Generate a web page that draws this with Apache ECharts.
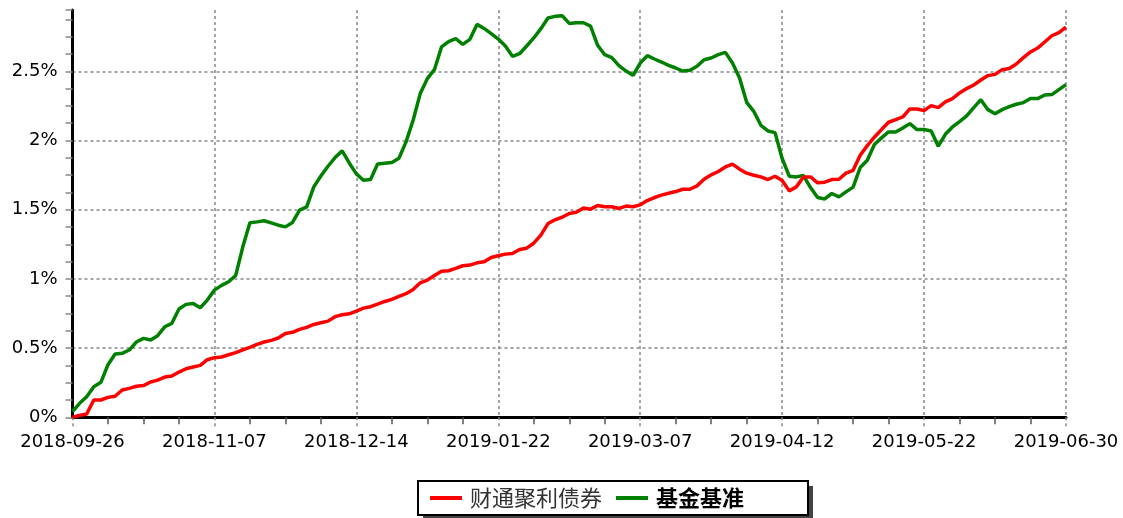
<!DOCTYPE html>
<html>
<head>
<meta charset="utf-8">
<title>财通聚利债券 vs 基金基准</title>
<script src="https://cdn.jsdelivr.net/npm/echarts@6/dist/echarts.min.js"></script>
<style>
    html, body { margin: 0; padding: 0; background: #fff; }
    #chart { width: 1123px; height: 518px; }
</style>
</head>
<body>
<div id="chart"></div>
<script>
// tick labels shown under the x axis (one every 20 points)
const tickLabels = ['2018-09-26', '2018-11-07', '2018-12-14', '2019-01-22',
    '2019-03-07', '2019-04-12', '2019-05-22', '2019-06-30'];
const pointsPerTick = 20;

const seriesNames = ['财通聚利债券', '基金基准'];

// cumulative return, %
const fundValues = [
    0, 0.014, 0.024, 0.125, 0.125, 0.144, 0.152, 0.197, 0.209, 0.224,
    0.229, 0.255, 0.269, 0.291, 0.298, 0.327, 0.351, 0.363, 0.375, 0.416,
    0.431, 0.436, 0.452, 0.467, 0.488, 0.505, 0.527, 0.544, 0.556, 0.573,
    0.606, 0.614, 0.635, 0.650, 0.671, 0.683, 0.695, 0.727, 0.741, 0.748,
    0.768, 0.789, 0.799, 0.818, 0.837, 0.852, 0.873, 0.893, 0.924, 0.972,
    0.991, 1.025, 1.056, 1.059, 1.076, 1.095, 1.100, 1.116, 1.124, 1.155,
    1.167, 1.179, 1.184, 1.213, 1.222, 1.258, 1.316, 1.400, 1.427, 1.446,
    1.473, 1.482, 1.513, 1.504, 1.530, 1.521, 1.521, 1.509, 1.526, 1.521,
    1.535, 1.566, 1.588, 1.605, 1.619, 1.631, 1.648, 1.648, 1.672, 1.720,
    1.752, 1.776, 1.809, 1.829, 1.793, 1.764, 1.749, 1.737, 1.718, 1.742,
    1.711, 1.636, 1.665, 1.737, 1.737, 1.694, 1.699, 1.718, 1.720, 1.764,
    1.785, 1.894, 1.963, 2.024, 2.079, 2.132, 2.151, 2.170, 2.228, 2.228,
    2.216, 2.252, 2.238, 2.279, 2.303, 2.344, 2.375, 2.401, 2.437, 2.469,
    2.478, 2.512, 2.520, 2.553, 2.599, 2.640, 2.668, 2.712, 2.757, 2.779,
    2.820
];

const benchmarkValues = [
    0.041, 0.101, 0.149, 0.221, 0.253, 0.380, 0.457, 0.462, 0.486, 0.544,
    0.570, 0.558, 0.590, 0.654, 0.679, 0.782, 0.816, 0.823, 0.792, 0.847,
    0.919, 0.953, 0.979, 1.025, 1.232, 1.405, 1.412, 1.420, 1.405, 1.388,
    1.376, 1.408, 1.497, 1.521, 1.665, 1.744, 1.814, 1.877, 1.925, 1.838,
    1.759, 1.713, 1.718, 1.831, 1.836, 1.841, 1.872, 1.990, 2.146, 2.339,
    2.447, 2.512, 2.676, 2.714, 2.736, 2.695, 2.731, 2.839, 2.810, 2.772,
    2.733, 2.683, 2.608, 2.627, 2.683, 2.741, 2.808, 2.885, 2.897, 2.902,
    2.846, 2.851, 2.851, 2.827, 2.688, 2.620, 2.599, 2.541, 2.502, 2.471,
    2.560, 2.613, 2.589, 2.567, 2.543, 2.524, 2.502, 2.507, 2.536, 2.584,
    2.596, 2.620, 2.637, 2.560, 2.452, 2.276, 2.211, 2.110, 2.069, 2.057,
    1.870, 1.742, 1.737, 1.747, 1.660, 1.588, 1.578, 1.617, 1.593, 1.629,
    1.663, 1.805, 1.858, 1.971, 2.019, 2.062, 2.062, 2.091, 2.122, 2.079,
    2.079, 2.069, 1.959, 2.045, 2.098, 2.137, 2.178, 2.238, 2.295, 2.223,
    2.194, 2.223, 2.245, 2.262, 2.274, 2.303, 2.303, 2.329, 2.332, 2.368,
    2.404
];

const yTicks = [0, 0.5, 1, 1.5, 2, 2.5];

const chart = echarts.init(document.getElementById('chart'));

const gridLine = { color: '#888', width: 1.5, type: [3, 3] };
const axisFont = { fontFamily: 'DejaVu Sans', fontSize: 18, color: '#000' };

const option = {
    animation: false,
    backgroundColor: '#fff',
    grid: { left: 72.5, right: 57, top: 10, bottom: 100.7, containLabel: false },
    // drop shadow behind the legend box
    graphic: [{
        type: 'rect',
        z: -1,
        silent: true,
        shape: { x: 423, y: 486, width: 390, height: 35 },
        style: { fill: '#444' }
    }],
    legend: {
        left: 418,
        top: 481,
        z: 10,
        padding: [6, 64, 6, 12],
        backgroundColor: '#fff',
        borderColor: '#000',
        borderWidth: 2,
        icon: 'rect',
        itemWidth: 32,
        itemHeight: 4,
        itemGap: 14,
        textStyle: {
            fontFamily: 'Noto Sans CJK SC',
            fontSize: 22,
            color: '#333',
            padding: [0, 0, 0, 3]
        },
        data: [
            { name: seriesNames[0] },
            { name: seriesNames[1], textStyle: { fontWeight: 'bold', color: '#000' } }
        ]
    },
    xAxis: {
        type: 'value',
        min: 0,
        max: (tickLabels.length - 1) * pointsPerTick,
        interval: pointsPerTick,
        offset: 3.7,
        axisLine: { show: true, lineStyle: { color: '#000', width: 3 } },
        axisTick: { show: true, length: 10, lineStyle: gridLine },
        minorTick: { show: true, splitNumber: 4, length: 7, lineStyle: { color: '#555', width: 1.5 } },
        splitLine: { show: true, lineStyle: gridLine },
        axisLabel: Object.assign({
            margin: 12,
            formatter: v => tickLabels[Math.round(v / pointsPerTick)] || ''
        }, axisFont)
    },
    yAxis: {
        type: 'value',
        min: 0,
        max: 2.943,
        interval: 0.5,
        axisLine: { show: true, lineStyle: { color: '#000', width: 3 } },
        axisTick: { show: true, length: 7, lineStyle: { color: '#888', width: 1.5 } },
        minorTick: { show: true, splitNumber: 4, length: 7, lineStyle: { color: '#888', width: 1.5 } },
        splitLine: { show: true, showMaxLine: false, lineStyle: gridLine },
        axisLabel: Object.assign({
            margin: 15,
            showMaxLabel: false,
            formatter: v => (yTicks.includes(v) ? v + '%' : '')
        }, axisFont)
    },
    series: [
        {
            name: seriesNames[0],
            type: 'line',
            showSymbol: false,
            z: 3,
            data: fundValues.map((v, i) => [i, v]),
            itemStyle: { color: '#ff0000' },
            lineStyle: { color: '#ff0000', width: 3.5 }
        },
        {
            name: seriesNames[1],
            type: 'line',
            showSymbol: false,
            z: 2,
            data: benchmarkValues.map((v, i) => [i, v]),
            itemStyle: { color: '#008000' },
            lineStyle: { color: '#008000', width: 3.5 }
        }
    ]
};

chart.setOption(option);
</script>
</body>
</html>
